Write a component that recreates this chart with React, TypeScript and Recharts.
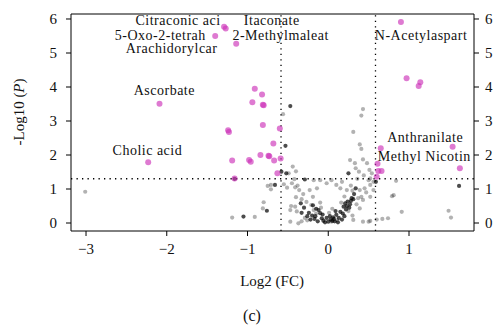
import { ScatterChart, Scatter, XAxis, YAxis, ReferenceLine } from 'recharts';

// significant, decreased (log2 FC < -0.585, p < 0.05)
const downPoints: [number, number][] = [
  [-1.29, 5.77], [-1.27, 5.72], [-1.4, 5.5], [-1.14, 5.27], [-2.09, 3.51],
  [-0.91, 3.95], [-0.82, 3.78], [-0.94, 3.55], [-0.81, 3.48], [-0.8, 3.46],
  [-1.24, 2.73], [-1.23, 2.68], [-0.81, 2.88], [-0.6, 2.78], [-0.68, 2.34],
  [-1.19, 1.84], [-0.98, 1.85], [-0.96, 1.8], [-0.84, 2.0], [-0.74, 1.98],
  [-0.73, 1.96], [-0.67, 1.84], [-0.59, 1.9], [-0.63, 1.46], [-1.16, 1.31],
  [-2.23, 1.79],
];

// significant, increased
const upPoints: [number, number][] = [
  [0.9, 5.91], [0.97, 4.26], [1.14, 4.14], [1.12, 4.03], [0.65, 2.2],
  [0.61, 1.74], [0.62, 1.53], [0.66, 1.53], [0.6, 1.36], [1.54, 2.24], [1.63, 1.61],
];

// not significant, darker (overlapping) points
const nsDark: [number, number][] = [
  [-0.47, 3.44], [-0.53, 2.27], [0.25, 1.46], [-0.58, 1.51], [-0.52, 1.46],
  [-0.29, 1.28], [0.59, 1.21], [-0.66, 1.12], [-0.76, 0.36], [-1.05, 0.19],
  [-0.34, 0.58], [1.62, 1.09], [-1.16, 1.3],
  [-0.12, 0.38], [-0.1, 0.29], [-0.08, 0.14], [-0.06, 0.07], [0.0, 0.04],
  [0.06, 0.17], [0.1, 0.24], [0.15, 0.33], [0.19, 0.48], [0.24, 0.63],
  [0.29, 0.73], [-0.2, 0.22], [-0.17, 0.12], [-0.13, 0.05], [-0.04, 0.02],
  [0.03, 0.1], [0.08, 0.05], [0.13, 0.15], [0.18, 0.28], [0.22, 0.4],
  [0.27, 0.55], [0.32, 0.85], [-0.24, 0.3], [-0.3, 0.45], [-0.19, 0.52],
  [0.21, 0.58], [0.34, 1.02], [-0.22, 0.1], [-0.16, 0.2], [-0.07, 0.25],
  [-0.02, 0.15], [0.02, 0.2], [0.05, 0.06], [0.09, 0.35], [0.12, 0.02],
  [0.17, 0.1], [0.2, 0.2], [0.23, 0.5], [0.26, 0.45], [0.28, 0.65],
  [0.31, 0.7], [-0.26, 0.2], [-0.33, 0.3], [-0.15, 0.42], [0.07, 0.12],
];

// not significant, light points
const nsLight: [number, number][] = [
  [-0.56, 3.2], [0.43, 3.35], [0.41, 3.16], [0.31, 2.68], [0.39, 2.31],
  [0.41, 2.18], [0.27, 1.85], [0.43, 1.87], [0.33, 1.76], [0.48, 1.76],
  [0.34, 1.61], [0.38, 1.51], [0.51, 1.56], [0.54, 1.46], [-0.44, 1.66],
  [-0.4, 1.52], [-0.49, 1.46], [-0.42, 1.29], [-0.18, 1.26], [-0.1, 1.26],
  [0.52, 1.31], [0.56, 1.21], [0.5, 1.26], [0.84, 1.24], [0.04, 1.26],
  [-0.02, 1.17], [0.1, 1.12], [0.17, 1.21], [0.15, 1.02], [0.23, 0.97],
  [-0.14, 1.02], [-0.23, 0.97], [-0.19, 0.77], [-0.55, 1.14], [-0.51, 1.04],
  [-0.41, 1.05], [-0.36, 0.97], [-0.45, 1.17], [-0.71, 1.12], [-0.75, 1.09],
  [-0.71, 0.99], [-0.4, 0.76], [-0.8, 0.61], [-0.81, 0.43], [-0.46, 0.5],
  [-0.39, 0.34], [-1.19, 0.16], [-0.91, 0.18], [-0.37, -0.01], [-3.01, 0.92],
  [-0.41, 0.48], [-0.33, 0.7], [-0.21, 0.53], [-0.18, 0.38], [0.04, 0.04],
  [0.37, 0.73], [0.41, 0.77], [0.52, 0.77], [0.56, 0.97], [0.39, 0.97],
  [0.45, 1.02], [0.52, 1.12], [0.43, 0.68], [0.39, 0.43], [0.79, 0.79],
  [0.81, 0.82], [0.91, 0.33], [0.74, 0.14], [0.67, 0.12], [0.6, 0.1],
  [0.52, 0.06], [0.43, 0.04], [0.31, 0.09], [0.5, 0.04], [1.49, 0.36],
  [1.52, 0.16], [-0.33, 0.05], [-0.47, 0.38], [-0.29, 0.15], [-0.47, 0.04],
  [-0.26, 0.08], [-0.15, 0.28], [-0.09, 0.45], [0.01, 0.3], [0.05, 0.42],
  [0.11, 0.08], [0.16, 0.6], [0.25, 0.35], [0.3, 0.22], [0.35, 0.55],
  [-0.27, 0.62], [-0.1, 0.6], [0.2, 0.78], [0.28, 1.1], [0.36, 1.3],
  [0.3, 0.95], [0.47, 0.9], [0.44, 1.4], [-0.31, 0.85], [-0.38, 1.1],
];

// annotation text and where it sits (data units, text centre)
const labels: { name: string; x: number; y: number }[] = [
  { name: 'Citraconic aci', x: -1.86, y: 5.96 },
  { name: 'Itaconate', x: -0.7, y: 5.96 },
  { name: '5-Oxo-2-tetrah', x: -2.08, y: 5.54 },
  { name: '2-Methylmaleat', x: -0.59, y: 5.54 },
  { name: 'Arachidorylcar', x: -1.94, y: 5.13 },
  { name: 'Ascorbate', x: -2.03, y: 3.91 },
  { name: 'Cholic acid', x: -2.24, y: 2.15 },
  { name: 'N-Acetylaspart', x: 1.15, y: 5.54 },
  { name: 'Anthranilate', x: 1.2, y: 2.53 },
  { name: 'Methyl Nicotin', x: 1.19, y: 1.97 },
];

const xTicks = [-3, -2, -1, 0, 1];
const yTicks = [0, 1, 2, 3, 4, 5, 6];
const xDomain: [number, number] = [-3.186, 1.805];
const yDomain: [number, number] = [-0.235, 6.147];
const fcCut = 0.585;
const pCut = 1.301;

const FONT = '"Liberation Serif", "DejaVu Serif", serif';
const toObj = (arr: [number, number][]) => arr.map(([x, y]) => ({ x, y }));
const fmt = (v: number) => (v < 0 ? `\u2212${-v}` : `${v}`);

const dot = (r: number, fill: string, op: number) => (p: any) =>
  <circle cx={p.cx} cy={p.cy} r={r} fill={fill} fillOpacity={op} />;

const tickStyle = { fill: '#111', fontSize: 15, fontFamily: FONT };

export default function App() {
  return (
    <div style={{ position: 'absolute', left: 0, top: 0, width: 497, height: 325, background: '#fff' }}>
      <ScatterChart width={497} height={325} margin={{ top: 14, right: 0, bottom: 0, left: 0 }}>
        <XAxis
          type="number"
          dataKey="x"
          domain={xDomain}
          ticks={xTicks}
          allowDataOverflow
          tickFormatter={fmt}
          height={94}
          tickSize={5}
          tickMargin={7}
          stroke="#000"
          tick={tickStyle}
        />
        <YAxis
          type="number"
          dataKey="y"
          domain={yDomain}
          ticks={yTicks}
          allowDataOverflow
          width={71}
          tickSize={5}
          tickMargin={9}
          stroke="#000"
          tick={tickStyle}
        />
        <YAxis
          yAxisId="r"
          orientation="right"
          type="number"
          dataKey="y"
          domain={yDomain}
          ticks={yTicks}
          allowDataOverflow
          width={23}
          tickSize={5}
          tickMargin={6}
          stroke="#000"
          tick={tickStyle}
        />
        <ReferenceLine y={yDomain[1]} stroke="#000" />
        <ReferenceLine x={-fcCut} stroke="#000" strokeWidth={1.3} strokeDasharray="1.3 4.2" />
        <ReferenceLine x={fcCut} stroke="#000" strokeWidth={1.3} strokeDasharray="1.3 4.2" />
        <ReferenceLine y={pCut} stroke="#000" strokeWidth={1.3} strokeDasharray="1.3 4.2" />
        <Scatter data={toObj(nsLight)} shape={dot(2.1, '#000', 0.3)} isAnimationActive={false} />
        <Scatter data={toObj(nsDark)} shape={dot(2.1, '#000', 0.7)} isAnimationActive={false} />
        <Scatter data={toObj(downPoints)} shape={dot(3, '#cc33b8', 0.65)} isAnimationActive={false} />
        <Scatter data={toObj(upPoints)} shape={dot(3, '#cc33b8', 0.65)} isAnimationActive={false} />
        <Scatter
          data={labels}
          isAnimationActive={false}
          shape={(p: any) => (
            <text
              x={p.cx}
              y={p.cy}
              dy="0.35em"
              textAnchor="middle"
              fontFamily={FONT}
              fontSize={14}
              letterSpacing={0.5}
              fill="#111"
            >
              {p.payload.name}
            </text>
          )}
        />
      </ScatterChart>
      <svg width={497} height={325} style={{ position: 'absolute', left: 0, top: 0, pointerEvents: 'none' }}>
        <text x={272} y={281} dy="0.35em" textAnchor="middle" fontFamily={FONT} fontSize={15} fill="#111">
          Log2 (FC)
        </text>
        <text x={252} y={315} dy="0.35em" textAnchor="middle" fontFamily={FONT} fontSize={16} fill="#111">
          (c)
        </text>
        <text
          transform="translate(19,112) rotate(-90)"
          dy="0.35em"
          textAnchor="middle"
          fontFamily={FONT}
          fontSize={15}
          fill="#111"
        >
          -Log10 (<tspan fontStyle="italic">P</tspan>)
        </text>
      </svg>
    </div>
  );
}
